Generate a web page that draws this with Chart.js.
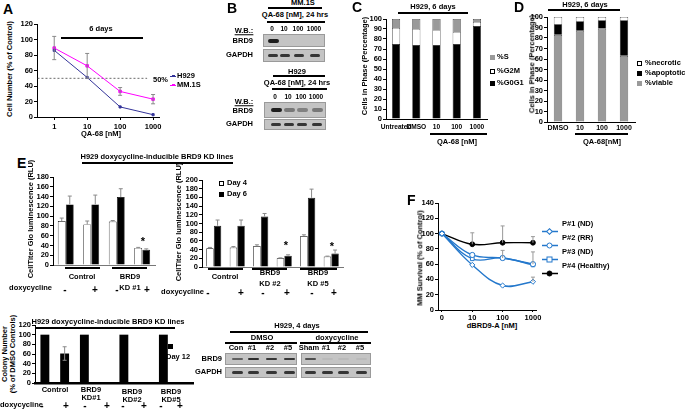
<!DOCTYPE html>
<html lang="en">
<head>
<meta charset="UTF-8" />
<title>BRD9 degradation figure</title>
<script src="https://cdn.jsdelivr.net/npm/chart.js"></script>
<style>
  body { margin: 0; background: #fff; }
  #fig { position: relative; width: 685px; height: 411px; overflow: hidden; background: #fff;
         font-family: "Liberation Sans", Arial, sans-serif; font-weight: bold; color: #000; }
  #fig canvas { position: absolute; }
  .t { position: absolute; white-space: nowrap; line-height: 1; color: #000; }
  .ln { position: absolute; background: #000; }
  .blot { position: absolute; background: #c4c4c4; border: 1px solid #9a9a9a; box-sizing: border-box; }
  .band { position: absolute; background: #1e1e1e; border-radius: 2px; filter: blur(0.5px); }
  .sq { position: absolute; box-sizing: border-box; }
</style>
</head>
<body>
<div id="fig"></div>
<script>
// ---------- data ----------
// A: cell number vs QA-68
const doseA = [1, 10, 100, 1000];
const h929A = [86, 51, 13, 3];
const mm1sA = [89, 66, 33, 23];
const mm1sErr = [15, 16, 5, 6];

// C: cell cycle
const phaseCats = ['Untreated', 'DMSO', '10', '100', '1000'];
const g0g1 = [75, 74, 74, 75, 93];
const g2m = [16, 16, 15, 12, 4];
const sPhase = [9, 10, 11, 13, 3];

// D: viability
const viabCats = ['DMSO', '10', '100', '1000'];
const viable = [83, 87, 89, 63];
const apoptotic = [10, 9, 8, 34];
const necrotic = [7, 4, 3, 3];

// E: CellTiter Glo, KD #1
const kd1Cats = ['Control -', 'Control +', 'KD1 -', 'KD1 +'];
const kd1Day4 = [90, 83, 89, 35];
const kd1Day4Err = [6, 7, 2, 1];
const kd1Day6 = [124, 124, 139, 31];
const kd1Day6Err = [17, 19, 17, 2];

// E: CellTiter Glo, KD #2 / #5
const kd25Cats = ['Control -', 'Control +', 'KD2 -', 'KD2 +', 'KD5 -', 'KD5 +'];
const kd25Day4 = [43, 45, 48, 20, 71, 24];
const kd25Day4Err = [2, 2, 3, 1, 3, 1];
const kd25Day6 = [95, 95, 116, 26, 159, 31];
const kd25Day6Err = [13, 13, 7, 2, 20, 8];

// E: colony number, day 12
const colonyCats = ['Control -', 'Control +', 'KD1 -', 'KD1 +', 'KD2 -', 'KD2 +', 'KD5 -', 'KD5 +'];
const colony = [100, 61, 100, 0, 100, 0, 100, 0];
const colonyErr = [0, 14, 0, 0, 0, 0, 0, 0];

// F: patient MM survival vs dBRD9-A
const doseF = ['0', '10', '100', '1000'];
const p1 = [100, 59, 32, 37];
const p2 = [100, 72, 68, 60];
const p3 = [100, 67, 68, 59];
const p4 = [100, 86, 88, 88];
const p1Err = [0, 0, 0, 6];
const p2Err = [0, 0, 10, 16];
const p4Err = [0, 15, 22, 8];

// blot band intensities (0 = no band)
const mmBrd9 = [1, 0, 0, 0];
const mmGapdh = [0.85, 0.85, 0.85, 0.85];
const h929Brd9 = [1, 0.45, 0.4, 0.45];
const h929Gapdh = [0.85, 0.85, 0.85, 0.85];
const dmsoBrd9 = [0.6, 0.9, 0.85, 0.85];
const doxBrd9 = [0.7, 0.05, 0.05, 0.05];
const kdGapdh = [0.85, 0.85, 0.85, 0.85];

// ---------- helpers ----------
const fig = document.getElementById('fig');
Chart.defaults.font = { family: '"Liberation Sans", Arial, sans-serif', size: 7.5, weight: 'bold' };
Chart.defaults.color = '#000';

function txt(s, x, y, o = {}) {
  const d = document.createElement('div');
  d.className = 't';
  d.textContent = s;
  d.style.fontSize = (o.size || 7.5) + 'px';
  const a = o.a || 'c';
  const tx = a === 'c' ? '-50%' : a === 'r' ? '-100%' : '0';
  d.style.left = x + 'px';
  d.style.top = y + 'px';
  d.style.transform = `translate(${tx},-50%)` + (o.rot ? ` rotate(${o.rot}deg)` : '');
  if (o.u) d.style.textDecoration = 'underline';
  fig.appendChild(d);
}
function line(x1, x2, y, t = 1.5, col = '#000') {
  const d = document.createElement('div');
  d.className = 'ln';
  Object.assign(d.style, { left: x1 + 'px', top: (y - t / 2) + 'px', width: (x2 - x1) + 'px', height: t + 'px', background: col });
  fig.appendChild(d);
}
function sq(x, y, s, fill, border) {
  const d = document.createElement('div');
  d.className = 'sq';
  Object.assign(d.style, { left: x + 'px', top: (y - s / 2) + 'px', width: s + 'px', height: s + 'px',
    background: fill, border: border ? '1px solid #000' : 'none' });
  fig.appendChild(d);
}
function blot(x, y, w, h, lanes, levels, bw, bh) {
  const b = document.createElement('div');
  b.className = 'blot';
  Object.assign(b.style, { left: x + 'px', top: y + 'px', width: w + 'px', height: h + 'px' });
  lanes.forEach((cx, i) => {
    if (!levels[i]) return;
    const k = document.createElement('div');
    k.className = 'band';
    Object.assign(k.style, { left: (cx - x - bw / 2) + 'px', top: (h / 2 - bh / 2 - 1) + 'px',
      width: bw + 'px', height: bh + 'px', opacity: levels[i] });
    b.appendChild(k);
  });
  fig.appendChild(b);
}

const errorBars = {
  id: 'errorBars',
  afterDatasetsDraw(chart) {
    const ctx = chart.ctx, y = chart.scales.y;
    chart.data.datasets.forEach((ds, di) => {
      if (!ds.errUp) return;
      chart.getDatasetMeta(di).data.forEach((el, i) => {
        const raw = ds.data[i];
        const v = typeof raw === 'object' ? raw.y : raw;
        const up = ds.errUp[i] || 0, dn = ds.errDown ? ds.errDown[i] || 0 : 0;
        if (!up && !dn) return;
        const yt = y.getPixelForValue(v + up), yb = y.getPixelForValue(v - dn);
        ctx.save();
        ctx.strokeStyle = ds.errColor || '#8a8a8a';
        ctx.lineWidth = 1;
        ctx.beginPath();
        ctx.moveTo(el.x, yt); ctx.lineTo(el.x, yb);
        ctx.moveTo(el.x - 2, yt); ctx.lineTo(el.x + 2, yt);
        if (dn) { ctx.moveTo(el.x - 2, yb); ctx.lineTo(el.x + 2, yb); }
        ctx.stroke();
        ctx.restore();
      });
    });
  }
};

function yAxis(min, max, step, w, extra = {}) {
  return Object.assign({
    type: 'linear',
    min, max,
    ticks: { stepSize: step, padding: 1, autoSkip: false },
    grid: { drawOnChartArea: false, tickLength: 3, color: '#000' },
    border: { color: '#000' },
    afterFit: s => { s.width = w; }
  }, extra);
}

// geometry: axis x, plot width, pixel of top value, pixel of zero, y-axis width, x-axis height
const PAD_TOP = 6;
function makeChart(g, config) {
  const padRight = g.padRight || 4;
  const w = g.yw + g.pw + padRight;
  const h = PAD_TOP + (g.y0 - g.yTop) + g.xh;
  const c = document.createElement('canvas');
  c.width = w; c.height = h;
  Object.assign(c.style, { left: (g.ax - g.yw) + 'px', top: (g.yTop - PAD_TOP) + 'px', width: w + 'px', height: h + 'px' });
  fig.appendChild(c);
  config.options = Object.assign({
    responsive: false, animation: false,
    layout: { padding: { top: PAD_TOP, right: padRight, left: 0, bottom: 0 } },
    plugins: { legend: { display: false }, tooltip: { enabled: false } }
  }, config.options);
  config.options.scales.x.afterFit = s => { s.height = g.xh; };
  config.plugins = [errorBars];
  return new Chart(c, config);
}

// ---------- Panel A ----------
makeChart({ ax: 37, pw: 123, yTop: 24, y0: 117, yw: 22, xh: 14 }, {
  type: 'line',
  data: {
    datasets: [
      { data: doseA.map((d, i) => ({ x: d, y: h929A[i] })), borderColor: '#333399', backgroundColor: '#333399',
        borderWidth: 1, pointStyle: 'rect', pointRadius: 1.5 },
      { data: doseA.map((d, i) => ({ x: d, y: mm1sA[i] })), borderColor: '#ff00ff', backgroundColor: '#ff00ff',
        borderWidth: 1, pointStyle: 'rect', pointRadius: 1.8, errUp: mm1sErr, errDown: mm1sErr, errColor: '#8a8a8a' },
      { data: [{ x: 0.31, y: 50 }, { x: 660, y: 50 }], borderColor: '#444', borderWidth: 0.8,
        borderDash: [2, 2], pointRadius: 0 }
    ]
  },
  options: {
    scales: {
      x: { type: 'logarithmic', min: 0.309, max: 1514,
        afterBuildTicks: s => { s.ticks = doseA.map(v => ({ value: v })); },
        ticks: { callback: v => String(v), padding: 2 },
        grid: { drawOnChartArea: false, tickLength: 3, color: '#000' }, border: { color: '#000' } },
      y: yAxis(0, 120, 20, 22)
    }
  }
});
txt('A', 3, 9, { size: 14, a: 'l' });
txt('Cell Number (% of Control)', 10, 69, { rot: -90 });
txt('6 days', 101, 29);
line(61, 143, 38, 2.5);
txt('50%', 153, 80, { a: 'l' });
txt('QA-68 [nM]', 101, 134);
line(170, 176, 76, 1, '#333399'); sq(172, 76, 2.5, '#333399');
txt('H929', 177, 76, { a: 'l' });
line(170, 176, 85, 1, '#ff00ff'); sq(172, 85, 2.5, '#ff00ff');
txt('MM.1S', 177, 85, { a: 'l' });

// ---------- Panel B (blots) ----------
txt('B', 227, 8, { size: 14, a: 'l' });
txt('MM.1S', 303, 3);
line(268, 322, 8);
txt('QA-68 [nM], 24 hrs', 295, 15);
line(267, 325, 22);
const mmLanes = [272, 284, 298, 314];
['0', '10', '100', '1000'].forEach((s, i) => txt(s, mmLanes[i], 29, { size: 6.5 }));
txt('W.B.:', 244, 31, { u: true });
txt('BRD9', 253, 41, { a: 'r' });
txt('GAPDH', 253, 55, { a: 'r' });
blot(263, 34, 62, 13, mmLanes, mmBrd9, 11, 4);
blot(263, 49, 62, 13, mmLanes, mmGapdh, 10, 2.5);

txt('H929', 297, 72);
line(273, 325, 76);
txt('QA-68 [nM], 24 hrs', 297, 83);
line(272, 327, 89);
const hLanes = [275, 288, 301, 316];
['0', '10', '100', '1000'].forEach((s, i) => txt(s, hLanes[i], 97, { size: 6.5 }));
txt('W.B.:', 244, 102, { u: true });
txt('BRD9', 253, 111, { a: 'r' });
txt('GAPDH', 253, 124, { a: 'r' });
blot(264, 102, 62, 16, hLanes, h929Brd9, 11, 4);
blot(264, 119, 62, 11, hLanes, h929Gapdh, 10, 2.5);

// ---------- Panel C ----------
makeChart({ ax: 386, pw: 101, yTop: 19, y0: 119, yw: 17, xh: 20 }, {
  type: 'bar',
  data: {
    labels: phaseCats,
    datasets: [
      { label: '%G0G1', data: g0g1, backgroundColor: '#000', borderColor: '#000', borderWidth: 0.6 },
      { label: '%G2M', data: g2m, backgroundColor: '#fff', borderColor: '#000', borderWidth: 0.6 },
      { label: '%S', data: sPhase, backgroundColor: '#9a9a9a', borderColor: '#000', borderWidth: 0.6 }
    ]
  },
  options: {
    datasets: { bar: { categoryPercentage: 1, barPercentage: 0.4 } },
    scales: {
      x: { stacked: true, ticks: { autoSkip: false, maxRotation: 0, minRotation: 0, padding: 4, font: { size: 6.6 } },
        grid: { display: false, drawTicks: false }, border: { color: '#000' } },
      y: yAxis(0, 100, 10, 17, { stacked: true })
    }
  }
});
txt('C', 352, 7, { size: 14, a: 'l' });
txt('H929, 6 days', 433, 7);
line(398, 468, 13);
txt('Cells in Phase (Percentage)', 365, 66, { rot: -90 });
line(430, 487, 134);
txt('QA-68 [nM]', 457, 142);
sq(490, 57, 5, '#9a9a9a'); txt('%S', 497, 57, { a: 'l' });
sq(490, 71, 5, '#fff', true); txt('%G2M', 497, 71, { a: 'l' });
sq(490, 83, 5, '#000'); txt('%G0G1', 497, 83, { a: 'l' });

// ---------- Panel D ----------
makeChart({ ax: 547, pw: 88, yTop: 17, y0: 122, yw: 17, xh: 20 }, {
  type: 'bar',
  data: {
    labels: viabCats,
    datasets: [
      { label: '%viable', data: viable, backgroundColor: '#9a9a9a', borderColor: '#000', borderWidth: 0.6 },
      { label: '%apoptotic', data: apoptotic, backgroundColor: '#000', borderColor: '#000', borderWidth: 0.6 },
      { label: '%necrotic', data: necrotic, backgroundColor: '#fff', borderColor: '#000', borderWidth: 0.6 }
    ]
  },
  options: {
    datasets: { bar: { categoryPercentage: 1, barPercentage: 0.38 } },
    scales: {
      x: { stacked: true, ticks: { autoSkip: false, maxRotation: 0, minRotation: 0, padding: 2, font: { size: 7 } },
        grid: { display: false, drawTicks: false }, border: { color: '#000' } },
      y: yAxis(0, 100, 10, 17, { stacked: true })
    }
  }
});
txt('D', 514, 7, { size: 14, a: 'l' });
txt('H929, 6 days', 585, 5);
line(548, 620, 10);
txt('Cells in Phase (Percentage)', 532, 64, { rot: -90 });
line(575, 628, 134);
txt('QA-68[nM]', 602, 142);
sq(637, 63, 5, '#fff', true); txt('%necrotic', 645, 63, { a: 'l' });
sq(637, 73, 5, '#000'); txt('%apoptotic', 645, 73, { a: 'l' });
sq(637, 83, 5, '#9a9a9a'); txt('%viable', 645, 83, { a: 'l' });

// ---------- Panel E: CellTiter Glo ----------
function noLabelX(border) {
  return { ticks: { display: false }, grid: { display: false, drawTicks: false }, border };
}
function rluChart(g, labels, d4, d4e, d6, d6e, ymax, cp) {
  return makeChart(g, {
    type: 'bar',
    data: {
      labels,
      datasets: [
        { label: 'Day 4', data: d4, backgroundColor: '#fff', borderColor: '#000', borderWidth: 0.7, errUp: d4e },
        { label: 'Day 6', data: d6, backgroundColor: '#000', borderColor: '#000', borderWidth: 0.7, errUp: d6e }
      ]
    },
    options: {
      datasets: { bar: { categoryPercentage: cp, barPercentage: 0.97 } },
      scales: {
        x: noLabelX({ color: '#777' }),
        y: yAxis(0, ymax, 20, 18)
      }
    }
  });
}
rluChart({ ax: 53, pw: 102, yTop: 177, y0: 265, yw: 18, xh: 6 }, kd1Cats, kd1Day4, kd1Day4Err, kd1Day6, kd1Day6Err, 180, 0.63);
rluChart({ ax: 202, pw: 141, yTop: 180, y0: 267, yw: 18, xh: 6 }, kd25Cats, kd25Day4, kd25Day4Err, kd25Day6, kd25Day6Err, 200, 0.65);

txt('E', 17, 163, { size: 14, a: 'l' });
txt('H929 doxycycline-inducible BRD9 KD lines', 157, 157);
line(82, 233, 163);
txt('CellTiter Glo luminescence (RLU)', 31, 219, { rot: -90 });
line(65, 100, 268, 2); line(112, 147, 268, 2);
txt('Control', 82, 277); txt('BRD9', 130, 277); txt('KD #1', 130, 288);
txt('doxycycline', 52, 288, { a: 'r' });
[[65, '-'], [95, '+'], [117, '-'], [147, '+']].forEach(([x, s]) => txt(s, x, 290, { size: 10 }));
txt('*', 143, 241, { size: 11 });

txt('CellTiter Glo luminescence (RLU)', 179, 222, { rot: -90 });
sq(219, 183, 5, '#fff', true); txt('Day 4', 227, 183, { a: 'l' });
sq(219, 194, 5, '#000'); txt('Day 6', 227, 194, { a: 'l' });
line(208, 243, 269, 2); line(252, 287, 269, 2); line(300, 337, 269, 2);
txt('Control', 225, 277); txt('BRD9', 270, 273); txt('KD #2', 270, 284);
txt('BRD9', 318, 273); txt('KD #5', 318, 284);
txt('doxycycline', 204, 292, { a: 'r' });
[[208, '-'], [241, '+'], [263, '-'], [287, '+'], [312, '-'], [334, '+']].forEach(([x, s]) => txt(s, x, 293, { size: 10 }));
txt('*', 286, 245, { size: 11 }); txt('*', 332, 246, { size: 11 });

// ---------- Panel E: colonies ----------
makeChart({ ax: 35, pw: 158, yTop: 325, y0: 383, yw: 16, xh: 6 }, {
  type: 'bar',
  data: {
    labels: colonyCats,
    datasets: [{ label: 'Day 12', data: colony, backgroundColor: '#000', borderColor: '#000', borderWidth: 0,
      errUp: colonyErr, errDown: colonyErr }]
  },
  options: {
    datasets: { bar: { categoryPercentage: 1, barPercentage: 0.45 } },
    scales: {
      x: noLabelX({ color: '#000', width: 2.5 }),
      y: yAxis(0, 120, 20, 16)
    }
  }
});
txt('Colony Number', 5, 354, { rot: -90 });
txt('(% of DMSO Controls)', 13, 354, { rot: -90 });
txt('H929 doxycycline-inducible BRD9 KD lines', 108, 322);
line(35, 175, 328, 1.2);
sq(168, 346, 5, '#000'); txt('Day 12', 166, 357, { a: 'l' });
txt('Control', 55, 390);
txt('BRD9', 91, 390); txt('KD#1', 91, 398);
txt('BRD9', 132, 392); txt('KD#2', 132, 400);
txt('BRD9', 171, 392); txt('KD#5', 171, 400);
txt('doxycycline', 0, 405, { a: 'l' });
[[42, '-'], [66, '+'], [85, '-'], [107, '+'], [123, '-'], [144, '+'], [161, '-'], [180, '+']].forEach(([x, s]) => txt(s, x, 406, { size: 10 }));

// ---------- Panel E: knockdown blot ----------
txt('H929, 4 days', 297, 326);
line(230, 368, 332);
txt('DMSO', 262, 338); line(225, 297, 343);
txt('doxycycline', 337, 338); line(300, 371, 343);
const dLanes = [236, 252, 270, 288];
const xLanes = [309, 326, 342, 360];
['Con', '#1', '#2', '#5'].forEach((s, i) => txt(s, dLanes[i], 348));
['Sham', '#1', '#2', '#5'].forEach((s, i) => txt(s, xLanes[i], 348));
txt('BRD9', 222, 359, { a: 'r' });
txt('GAPDH', 222, 372, { a: 'r' });
blot(225, 353, 72, 12, dLanes, dmsoBrd9, 11, 2.5);
blot(225, 367, 72, 11, dLanes, kdGapdh, 11, 2.5);
blot(301, 353, 70, 12, xLanes, doxBrd9, 11, 2.5);
blot(301, 367, 70, 11, xLanes, kdGapdh, 11, 2.5);

// ---------- Panel F ----------
const BLUE = '#2478cc';
function pset(vals, style, err, dark) {
  return {
    data: vals.map((v, i) => ({ x: i, y: v })),
    borderColor: dark ? '#000' : BLUE, backgroundColor: dark ? '#000' : '#fff',
    borderWidth: 1.4, pointBorderWidth: 1, pointStyle: style, pointRadius: dark ? 2.4 : 2.6,
    tension: 0.4, errUp: err, errColor: '#999'
  };
}
makeChart({ ax: 438, pw: 98, yTop: 202.5, y0: 310, yw: 18, xh: 10, padRight: 10 }, {
  type: 'line',
  data: {
    datasets: [
      pset(p1, 'rectRot', p1Err), pset(p2, 'circle', p2Err), pset(p3, 'rect', null), pset(p4, 'circle', p4Err, true)
    ]
  },
  options: {
    scales: {
      x: { type: 'linear', min: -0.13, max: 3.1,
        afterBuildTicks: s => { s.ticks = doseF.map((d, i) => ({ value: i })); },
        ticks: { callback: v => doseF[v], padding: 1 },
        grid: { drawOnChartArea: false, tickLength: 2, color: '#000' }, border: { color: '#000' } },
      y: yAxis(0, 140, 20, 18)
    }
  }
});
txt('F', 407, 200, { size: 14, a: 'l' });
txt('MM Survival (% of Control)', 420, 258, { rot: -90 });
txt('dBRD9-A [nM]', 492, 326);
const legF = [['P#1 (ND)', 'd', 224], ['P#2 (RR)', 'c', 238], ['P#3 (ND)', 's', 252], ['P#4 (Healthy)', 'k', 266]];
legF.forEach(([name, m, y]) => {
  const col = m === 'k' ? '#000' : BLUE;
  const mk = m === 'd' ? `<rect x="5.5" y="1.5" width="4" height="4" transform="rotate(45 7.5 3.5)" fill="#fff" stroke="${col}"/>`
    : m === 's' ? `<rect x="5" y="1" width="5" height="5" fill="#fff" stroke="${col}"/>`
    : `<circle cx="7.5" cy="3.5" r="2.5" fill="${m === 'k' ? '#000' : '#fff'}" stroke="${col}"/>`;
  const s = document.createElement('div');
  s.style.position = 'absolute'; s.style.left = '542px'; s.style.top = (y - 3.5) + 'px';
  s.innerHTML = `<svg width="16" height="7"><line x1="0" y1="3.5" x2="16" y2="3.5" stroke="${col}" stroke-width="1.5"/>${mk}</svg>`;
  fig.appendChild(s);
  txt(name, 562, y, { a: 'l' });
});
</script>
</body>
</html>
